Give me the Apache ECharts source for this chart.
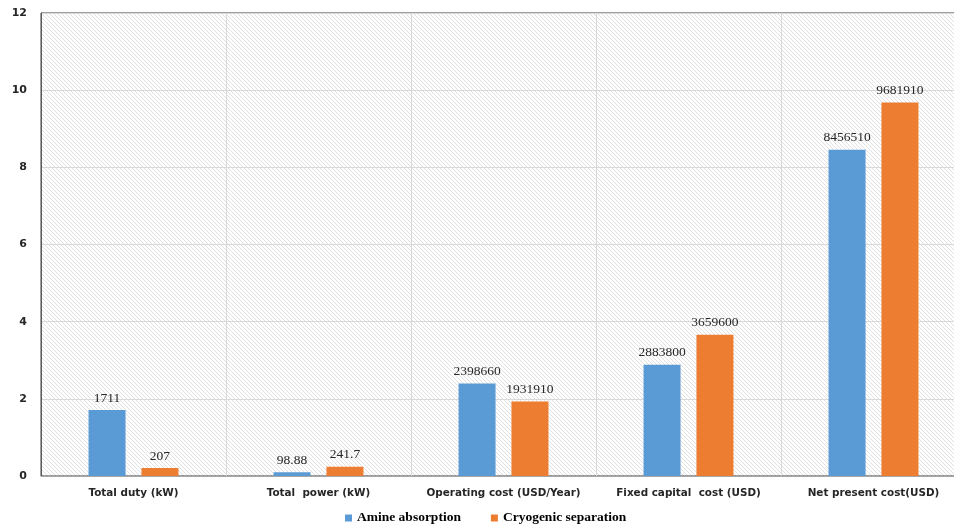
<!DOCTYPE html>
<html>
<head>
<meta charset="utf-8">
<script src="https://cdn.jsdelivr.net/npm/echarts@6/dist/echarts.min.js"></script>
<style>html,body{margin:0;padding:0;background:#fff;overflow:hidden}#c{width:967px;height:524px}</style>
</head>
<body>
<div id="c"></div>
<script>
var categories = ['Total duty (kW)', 'Total  power (kW)', 'Operating cost (USD/Year)', 'Fixed capital  cost (USD)', 'Net present cost(USD)'];
var seriesNames = ['Amine absorption', 'Cryogenic separation'];
var amineValues = [1.711, 0.0989, 2.3987, 2.8838, 8.4565];
var cryoValues = [0.207, 0.2417, 1.9319, 3.6596, 9.6819];
var amineLabels = ['1711', '98.88', '2398660', '2883800', '8456510'];
var cryoLabels = ['207', '241.7', '1931910', '3659600', '9681910'];
var yTicks = [0, 2, 4, 6, 8, 10, 12];

// hatch pattern
var pc = document.createElement('canvas');
pc.width = 4; pc.height = 4;
var px = pc.getContext('2d');
px.fillStyle = '#ffffff'; px.fillRect(0, 0, 4, 4);
px.fillStyle = '#e0e0e0';
for (var i = 0; i < 4; i++) { px.fillRect(i, i, 1, 1); }

var chart = echarts.init(document.getElementById('c'));
function mk(name, vals, labels, color) {
  return {
    name: name, type: 'bar', data: vals, barWidth: 37, barGap: '43%',
    itemStyle: { color: color },
    label: {
      show: true, position: 'top', distance: 5,
      formatter: function (p) { return labels[p.dataIndex]; },
      fontFamily: 'Liberation Serif', fontSize: 13.5, color: '#262626'
    }
  };
}
chart.setOption({
  animation: false,
  grid: {
    left: 41, top: 13, right: 1, height: 463,
    show: true, backgroundColor: { image: pc, repeat: 'repeat' },
    borderColor: '#404040', borderWidth: 1
  },
  legend: {
    top: 511, left: 345, itemWidth: 7, itemHeight: 7, itemGap: 30, icon: 'rect',
    padding: 0,
    data: seriesNames,
    textStyle: { fontFamily: 'Liberation Serif', fontWeight: 'bold', fontSize: 13.5, color: '#000', lineHeight: 13 }
  },
  xAxis: {
    type: 'category', data: categories,
    axisLine: { lineStyle: { color: '#a6a6a6' } },
    axisTick: { show: false },
    splitLine: { show: true, lineStyle: { color: '#d9d9d9' } },
    axisLabel: { margin: 12, fontFamily: 'DejaVu Sans', fontWeight: 'bold', fontSize: 10.4, color: '#262626', interval: 0 }
  },
  yAxis: {
    type: 'value', min: yTicks[0], max: yTicks[yTicks.length - 1], interval: 2,
    axisLine: { show: true, lineStyle: { color: '#595959' } },
    axisTick: { show: false },
    splitLine: { lineStyle: { color: '#d9d9d9' } },
    axisLabel: { margin: 14, fontFamily: 'DejaVu Sans', fontWeight: 'bold', fontSize: 11, color: '#262626' }
  },
  series: [
    mk(seriesNames[0], amineValues, amineLabels, '#5B9BD5'),
    mk(seriesNames[1], cryoValues, cryoLabels, '#ED7D31')
  ]
});
</script>
</body>
</html>
